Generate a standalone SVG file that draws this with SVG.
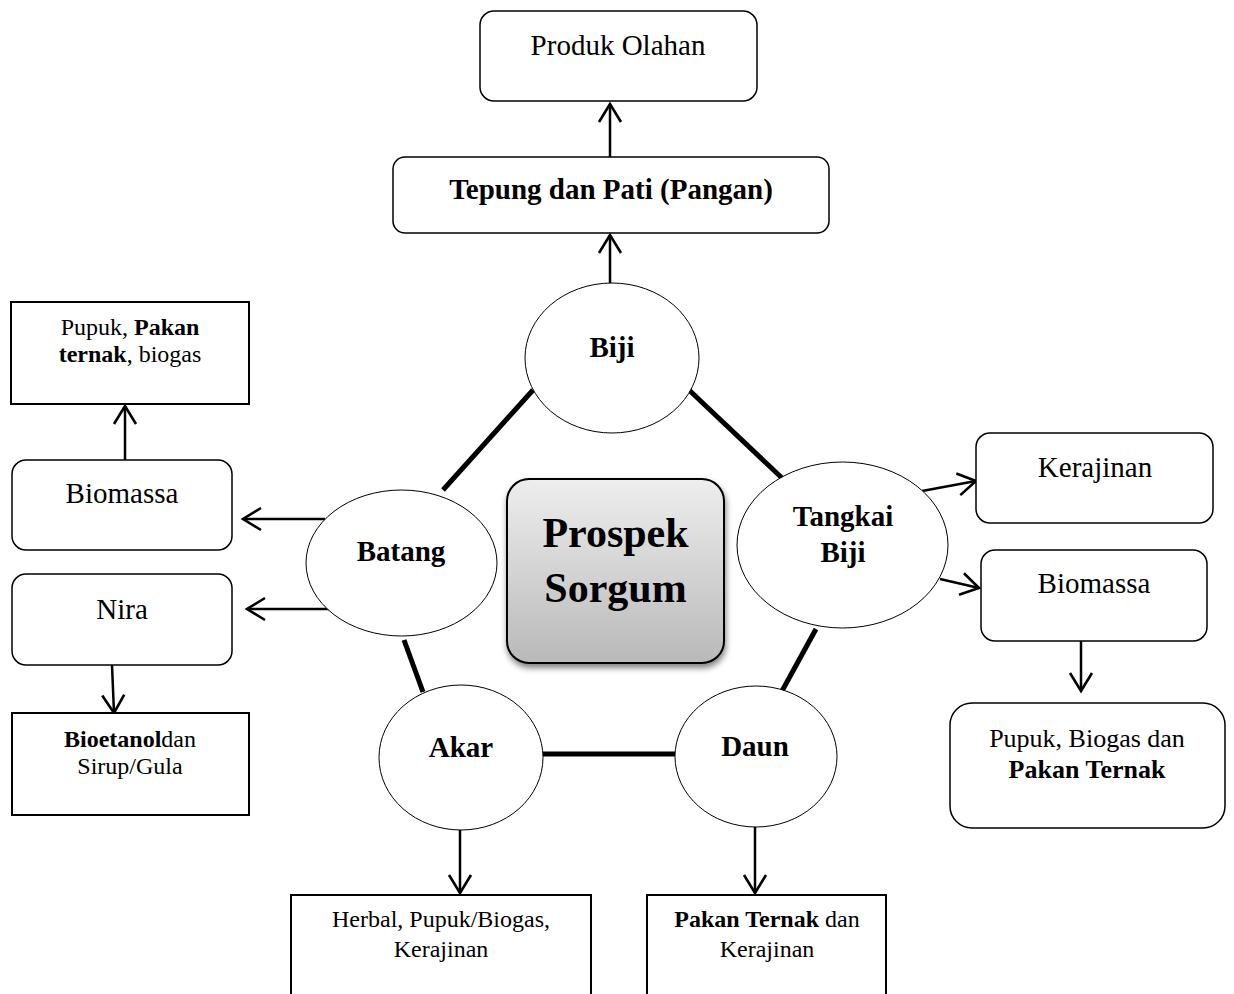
<svg xmlns="http://www.w3.org/2000/svg" width="1234" height="994" viewBox="0 0 1234 994">
<style>
text{font-family:"Liberation Serif","Times New Roman",serif;fill:#000;text-anchor:middle}
.rb{fill:#fff;stroke:#000;stroke-width:1.5}
.sq{fill:#fff;stroke:#000;stroke-width:2}
.el{fill:#fff;stroke:#000;stroke-width:1}
.big{font-size:29px}
.sm{font-size:24px}
.md{font-size:26px}
.lab{font-size:29px;font-weight:bold}
.b{font-weight:bold}
.thick{stroke:#000;stroke-width:5;fill:none}
.arr{stroke:#000;stroke-width:2.5;fill:none;marker-end:url(#ah)}
</style>
<defs>
<marker id="ah" markerUnits="userSpaceOnUse" markerWidth="24" markerHeight="28" viewBox="0 0 24 28" refX="20" refY="14" orient="auto">
<path d="M2,3 L20,14 L2,25" fill="none" stroke="#000" stroke-width="2.6"/>
</marker>
<linearGradient id="g" x1="0" y1="0" x2="0" y2="1">
<stop offset="0" stop-color="#eeeeee"/>
<stop offset="1" stop-color="#b9b9b9"/>
</linearGradient>
<filter id="sh" x="-20%" y="-20%" width="140%" height="140%">
<feGaussianBlur in="SourceAlpha" stdDeviation="3"/>
<feOffset dx="1" dy="4" result="o"/>
<feComponentTransfer><feFuncA type="linear" slope="0.5"/></feComponentTransfer>
<feMerge><feMergeNode/><feMergeNode in="SourceGraphic"/></feMerge>
</filter>
</defs>

<g id="connectors">
<line class="thick" x1="533" y1="390" x2="443" y2="490"/>
<line class="thick" x1="689" y1="390" x2="782" y2="478"/>
<line class="thick" x1="404" y1="640" x2="423" y2="692"/>
<line class="thick" x1="543" y1="754" x2="675" y2="754"/>
<line class="thick" x1="816" y1="629" x2="782" y2="691"/>
<line class="arr" x1="610" y1="283" x2="610" y2="235"/>
<line class="arr" x1="610" y1="157" x2="610" y2="104"/>
<line class="arr" x1="325" y1="519" x2="243" y2="519"/>
<line class="arr" x1="329" y1="609" x2="247" y2="609"/>
<line class="arr" x1="125" y1="460" x2="125" y2="406"/>
<line class="arr" x1="112" y1="665" x2="114" y2="713"/>
<line class="arr" x1="922" y1="491" x2="976" y2="481"/>
<line class="arr" x1="940" y1="579" x2="979" y2="588"/>
<line class="arr" x1="1081" y1="641" x2="1081" y2="691"/>
<line class="arr" x1="460" y1="830" x2="460" y2="893"/>
<line class="arr" x1="755" y1="827" x2="755" y2="893"/>
</g>

<g id="produk-olahan">
<rect class="rb" x="480" y="11" width="277" height="90" rx="14"/>
<text class="big" x="618" y="55">Produk Olahan</text>
</g>
<g id="tepung">
<rect class="rb" x="393" y="157" width="436" height="76" rx="12"/>
<text class="big b" x="611" y="199">Tepung dan Pati (Pangan)</text>
</g>
<g id="pupuk-pakan-left">
<rect class="sq" x="11" y="302" width="238" height="102"/>
<text class="sm" x="130" y="335">Pupuk, <tspan class="b">Pakan</tspan></text>
<text class="sm" x="130" y="362"><tspan class="b">ternak</tspan>, biogas</text>
</g>
<g id="biomassa-left">
<rect class="rb" x="12" y="460" width="220" height="90" rx="14"/>
<text class="big" x="122" y="503">Biomassa</text>
</g>
<g id="nira">
<rect class="rb" x="12" y="574" width="220" height="91" rx="14"/>
<text class="big" x="122" y="619">Nira</text>
</g>
<g id="bioetanol">
<rect class="sq" x="12" y="713" width="237" height="102"/>
<text class="sm" x="130" y="747"><tspan class="b">Bioetanol</tspan>dan</text>
<text class="sm" x="130" y="774">Sirup/Gula</text>
</g>
<g id="kerajinan">
<rect class="rb" x="976" y="433" width="237" height="90" rx="14"/>
<text class="big" x="1095" y="477">Kerajinan</text>
</g>
<g id="biomassa-right">
<rect class="rb" x="981" y="550" width="226" height="91" rx="14"/>
<text class="big" x="1094" y="593">Biomassa</text>
</g>
<g id="pupuk-biogas">
<rect class="rb" x="950" y="703" width="275" height="125" rx="22"/>
<text class="md" x="1087" y="747">Pupuk, Biogas dan</text>
<text class="md b" x="1087" y="778">Pakan Ternak</text>
</g>
<g id="herbal">
<rect class="sq" x="291" y="895" width="300" height="130"/>
<text class="sm" x="441" y="927">Herbal, Pupuk/Biogas,</text>
<text class="sm" x="441" y="957">Kerajinan</text>
</g>
<g id="pakan-ternak">
<rect class="sq" x="647" y="895" width="239" height="130"/>
<text class="sm" x="767" y="927"><tspan class="b">Pakan Ternak</tspan> dan</text>
<text class="sm" x="767" y="957">Kerajinan</text>
</g>

<g id="biji">
<ellipse class="el" cx="612" cy="358" rx="87" ry="75"/>
<text class="lab" x="612" y="357">Biji</text>
</g>
<g id="batang">
<ellipse class="el" cx="401.5" cy="563" rx="95.5" ry="73"/>
<text class="lab" x="401" y="561">Batang</text>
</g>
<g id="tangkai-biji">
<ellipse class="el" cx="842.5" cy="545" rx="105.5" ry="83"/>
<text class="lab" x="843" y="526">Tangkai</text>
<text class="lab" x="843" y="562">Biji</text>
</g>
<g id="akar">
<ellipse class="el" cx="461" cy="757.5" rx="82" ry="72.5"/>
<text class="lab" x="461" y="757">Akar</text>
</g>
<g id="daun">
<ellipse class="el" cx="756" cy="756.5" rx="81" ry="70.5"/>
<text class="lab" x="755" y="756">Daun</text>
</g>
<g id="prospek-sorgum">
<rect x="507" y="479" width="217" height="184" rx="22" fill="url(#g)" stroke="#000" stroke-width="2" filter="url(#sh)"/>
<text x="615.5" y="547" style="font-size:42px;font-weight:bold">Prospek</text>
<text x="615.5" y="602" style="font-size:42px;font-weight:bold">Sorgum</text>
</g>
</svg>
